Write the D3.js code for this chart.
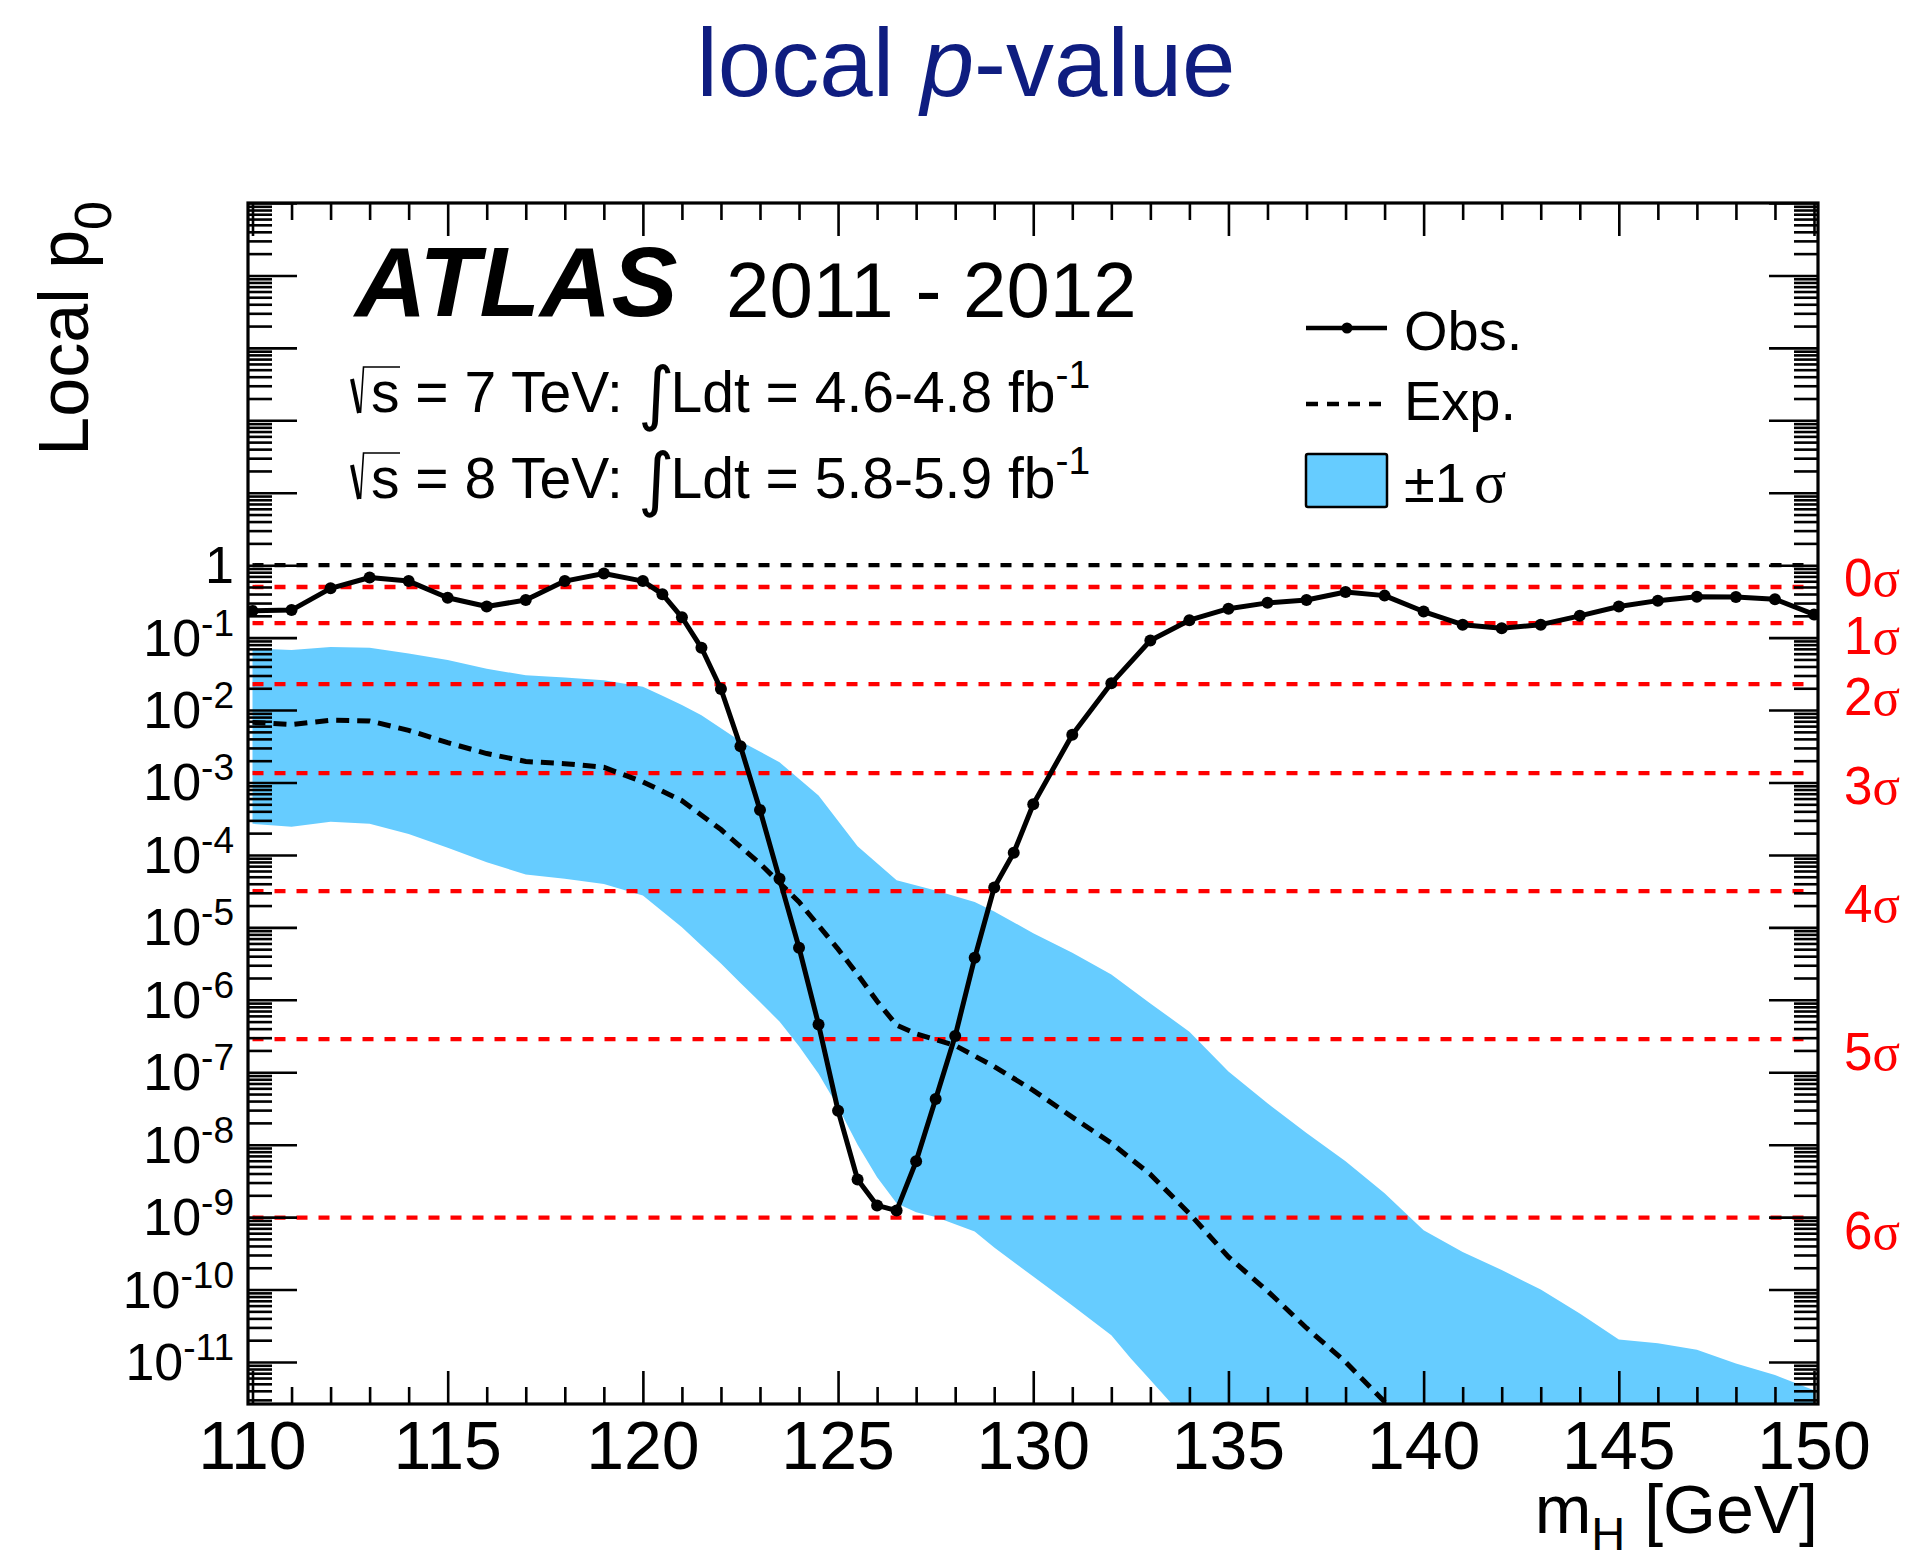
<!DOCTYPE html>
<html>
<head>
<meta charset="utf-8">
<script src="https://cdn.jsdelivr.net/npm/d3@7"></script>
<style>
  body { margin: 0; background: #ffffff; }
  svg { display: block; }
  text { font-family: "Liberation Sans", Arial, Helvetica, sans-serif; }
</style>
</head>
<body>
<svg id="chart" width="1911" height="1563"></svg>
<script>
// ---- Observed local p0 vs Higgs mass ----
const massObs = [110, 111, 112, 113, 114, 115, 116, 117, 118, 119, 120,
  120.5, 121, 121.5, 122, 122.5, 123, 123.5, 124, 124.5, 125, 125.5, 126,
  126.5, 127, 127.5, 128, 128.5, 129, 129.5, 130,
  131, 132, 133, 134, 135, 136, 137, 138, 139, 140,
  141, 142, 143, 144, 145, 146, 147, 148, 149, 150];
const pObs = [0.234, 0.240, 0.479, 0.676, 0.603, 0.355, 0.269, 0.331, 0.603, 0.767, 0.603,
  0.398, 0.191, 0.0724, 0.0195, 3.16e-3, 4.17e-4, 4.68e-5, 5.25e-6, 4.57e-7, 2.95e-8, 3.31e-9, 1.45e-9,
  1.23e-9, 5.89e-9, 4.27e-8, 3.16e-7, 3.80e-6, 3.55e-5, 1.07e-4, 5.01e-4,
  4.57e-3, 0.0234, 0.0912, 0.174, 0.251, 0.302, 0.331, 0.427, 0.380, 0.229,
  0.151, 0.135, 0.151, 0.200, 0.269, 0.324, 0.367, 0.363, 0.339, 0.209];

// ---- Expected local p0 (SM Higgs) ----
const massExp = [110, 111, 112, 113, 114, 115, 116, 117, 118, 119, 120, 121, 122, 123, 124,
  125, 125.5, 126, 126.5, 127, 128, 129, 130, 131, 132, 133, 134, 135, 136, 137, 138, 139, 140];
const pExp = [6.76e-3, 6.31e-3, 7.24e-3, 7.08e-3, 5.25e-3, 3.55e-3, 2.51e-3, 1.95e-3, 1.82e-3, 1.62e-3,
  1.02e-3, 5.62e-4, 2.24e-4, 7.59e-5, 2.24e-5, 5.01e-6, 2.24e-6, 9.55e-7, 4.47e-7, 3.39e-7, 2.34e-7,
  1.20e-7, 5.62e-8, 2.40e-8, 1.05e-8, 3.89e-9, 1.12e-9, 2.82e-10, 9.55e-11, 2.95e-11, 1.00e-11,
  2.82e-12, 7.94e-13];

// ---- ±1σ band on the expectation ----
const massBandUp = [110, 111, 112, 113, 114, 115, 116, 117, 118, 119, 120, 120.5, 121, 121.5,
  122.5, 123.5, 124.5, 125.5, 126.5, 127.5, 128.5, 129, 130, 131, 132, 133, 134, 135, 136, 137,
  138, 139, 140, 141, 142, 143, 144, 145, 146, 147, 148, 149, 150];
const bandUp = [0.0708, 0.0676, 0.0741, 0.0724, 0.0603, 0.0490, 0.0372, 0.0302, 0.0282, 0.0257,
  0.0209, 0.0158, 0.0117, 8.51e-3, 3.72e-3, 1.91e-3, 6.61e-4, 1.32e-4, 4.47e-5, 3.24e-5, 2.24e-5,
  1.66e-5, 8.32e-6, 4.47e-6, 2.24e-6, 8.91e-7, 3.63e-7, 1.02e-7, 3.72e-8, 1.45e-8, 5.89e-9,
  2.14e-9, 6.61e-10, 3.31e-10, 1.86e-10, 1.00e-10, 4.68e-11, 2.04e-11, 1.82e-11, 1.48e-11,
  9.55e-12, 6.61e-12, 4.07e-12];
const massBandDn = [110, 111, 112, 113, 114, 115, 116, 117, 118, 119, 120, 121, 121.5, 122, 122.5,
  123, 123.5, 124, 124.5, 125, 125.5, 126, 126.5, 127, 127.5, 128.5, 129, 130, 131, 132, 132.5,
  133, 133.5, 134];
const bandDn = [2.69e-4, 2.45e-4, 2.88e-4, 2.69e-4, 1.95e-4, 1.26e-4, 7.94e-5, 5.37e-5, 4.68e-5,
  3.98e-5, 2.75e-5, 1.00e-5, 5.62e-6, 3.16e-6, 1.70e-6, 9.33e-7, 5.01e-7, 2.29e-7, 9.55e-8,
  3.31e-8, 1.00e-8, 3.55e-9, 1.55e-9, 1.17e-9, 1.00e-9, 6.31e-10, 3.80e-10, 1.51e-10, 6.03e-11,
  2.34e-11, 1.12e-11, 5.62e-12, 2.82e-12, 1.26e-12];

// ---- significance reference lines ----
const sigmaNames = ["0", "1", "2", "3", "4", "5", "6"];
const sigmaP = [0.5, 0.1587, 0.02275, 1.350e-3, 3.167e-5, 2.867e-7, 9.866e-10];
const sigmaNudge = [-22, 0, 0, 0, 0, 0, 0];

// ---- axis ticks ----
const xMajorTicks = [110, 115, 120, 125, 130, 135, 140, 145, 150];
const yLabelExponents = [0, -1, -2, -3, -4, -5, -6, -7, -8, -9, -10, -11];

const svg = d3.select("#chart");
const F = { left: 248, right: 1818, top: 203, bottom: 1404 };

const x = d3.scaleLinear().domain([110, 150]).range([252.5, 1814]);
const y = d3.scaleLog().domain([Math.pow(10, -11.58), 1e5]).range([F.bottom, F.top]);

svg.append("defs").append("clipPath").attr("id", "plotClip")
  .append("rect").attr("x", F.left).attr("y", F.top)
  .attr("width", F.right - F.left).attr("height", F.bottom - F.top);

// title
const title = svg.append("text").attr("x", 966).attr("y", 96)
  .attr("text-anchor", "middle").style("font-size", "96px").style("fill", "#0f1d80");
title.append("tspan").text("local ");
title.append("tspan").style("font-style", "italic").text("p");
title.append("tspan").text("-value");

const plot = svg.append("g").attr("clip-path", "url(#plotClip)");

// band: upper edge left to right, then down past the frame bottom and back along the lower edge
const lastDn = massBandDn[massBandDn.length - 1];
const bandPts = massBandUp.map((m, i) => [x(m), y(bandUp[i])])
  .concat([[x(150), F.bottom + 20], [x(lastDn), F.bottom + 20]])
  .concat(massBandDn.map((m, i) => [x(m), y(bandDn[i])]).reverse());
plot.append("path").attr("d", d3.line()(bandPts) + "Z")
  .attr("fill", "#66ccff").attr("stroke", "none");

// p0 = 1 reference
plot.append("line").attr("x1", x(110)).attr("x2", x(150))
  .attr("y1", y(1)).attr("y2", y(1))
  .attr("stroke", "#000").attr("stroke-width", 4.2).attr("stroke-dasharray", "11,11");

// sigma lines
plot.selectAll(".sig").data(sigmaP).enter().append("line")
  .attr("x1", x(110)).attr("x2", x(150))
  .attr("y1", d => y(d)).attr("y2", d => y(d))
  .attr("stroke", "#ff0000").attr("stroke-width", 4.3).attr("stroke-dasharray", "11,11");

// expected
plot.append("path")
  .attr("d", d3.line().x((m) => x(m)).y((m, i) => y(pExp[i]))(massExp))
  .attr("fill", "none").attr("stroke", "#000").attr("stroke-width", 5)
  .attr("stroke-dasharray", "13,8");

// observed
plot.append("path")
  .attr("d", d3.line().x((m) => x(m)).y((m, i) => y(pObs[i]))(massObs))
  .attr("fill", "none").attr("stroke", "#000").attr("stroke-width", 5)
  .attr("stroke-linejoin", "round");
plot.selectAll(".obsDot").data(massObs).enter().append("circle")
  .attr("cx", d => x(d)).attr("cy", (d, i) => y(pObs[i])).attr("r", 6).attr("fill", "#000");

// ---- ticks ----
const decades = d3.range(-11, 6).map(e => Math.pow(10, e));
const minors = [];
for (let e = -12; e <= 4; e++) for (let k = 2; k <= 9; k++) {
  const v = k * Math.pow(10, e);
  if (v > y.domain()[0] && v < y.domain()[1]) minors.push(v);
}
const xMinor = d3.range(110, 151).filter(v => v % 5 !== 0);

function styleAxis(g) {
  g.select(".domain").remove();
  g.selectAll(".tick line").attr("stroke", "#000").attr("stroke-width", 2.6);
  g.selectAll(".tick text").remove();
}
svg.append("g").attr("transform", `translate(${F.left},0)`)
  .call(d3.axisRight(y).tickValues(decades).tickSize(49).tickFormat("")).call(styleAxis);
svg.append("g").attr("transform", `translate(${F.left},0)`)
  .call(d3.axisRight(y).tickValues(minors).tickSize(24).tickFormat("")).call(styleAxis);
svg.append("g").attr("transform", `translate(${F.right},0)`)
  .call(d3.axisLeft(y).tickValues(decades).tickSize(49).tickFormat("")).call(styleAxis);
svg.append("g").attr("transform", `translate(${F.right},0)`)
  .call(d3.axisLeft(y).tickValues(minors).tickSize(24).tickFormat("")).call(styleAxis);
svg.append("g").attr("transform", `translate(0,${F.bottom})`)
  .call(d3.axisTop(x).tickValues(xMajorTicks).tickSize(33).tickFormat("")).call(styleAxis);
svg.append("g").attr("transform", `translate(0,${F.bottom})`)
  .call(d3.axisTop(x).tickValues(xMinor).tickSize(17).tickFormat("")).call(styleAxis);
svg.append("g").attr("transform", `translate(0,${F.top})`)
  .call(d3.axisBottom(x).tickValues(xMajorTicks).tickSize(33).tickFormat("")).call(styleAxis);
svg.append("g").attr("transform", `translate(0,${F.top})`)
  .call(d3.axisBottom(x).tickValues(xMinor).tickSize(17).tickFormat("")).call(styleAxis);

// frame
svg.append("rect").attr("x", F.left).attr("y", F.top)
  .attr("width", F.right - F.left).attr("height", F.bottom - F.top)
  .attr("fill", "none").attr("stroke", "#000").attr("stroke-width", 3.2);

// x tick labels
svg.selectAll(".xlab").data(xMajorTicks).enter().append("text")
  .attr("x", d => x(d)).attr("y", 1469).attr("text-anchor", "middle")
  .style("font-size", "68px").text(d => d);

// y tick labels
yLabelExponents.forEach(e => {
  const t = svg.append("text").attr("x", 234).attr("y", y(Math.pow(10, e)) + 18)
    .attr("text-anchor", "end").style("font-size", "52px");
  if (e === 0) t.text("1");
  else {
    t.append("tspan").text("10");
    t.append("tspan").attr("dy", -20).style("font-size", "37px").text("-" + (-e));
  }
});

// sigma labels
sigmaP.forEach((p, i) => {
  const t = svg.append("text").attr("x", 1844).attr("y", y(p) + 31 + sigmaNudge[i])
    .style("font-size", "53px").style("fill", "#ff0000")
    .attr("textLength", 56).attr("lengthAdjust", "spacingAndGlyphs");
  t.append("tspan").text(sigmaNames[i]);
  t.append("tspan").style("font-family", "'Liberation Serif', 'Times New Roman', serif").text("σ");
});

// axis titles
const xt = svg.append("text").attr("x", 1818).attr("y", 1533).attr("text-anchor", "end")
  .style("font-size", "68px");
xt.append("tspan").text("m");
xt.append("tspan").attr("dy", 17).style("font-size", "47px").text("H");
xt.append("tspan").attr("dy", -17).text(" [GeV]");

const yt = svg.append("text").attr("transform", "translate(88,201) rotate(-90)")
  .attr("text-anchor", "end").style("font-size", "70px");
yt.append("tspan").text("Local p");
yt.append("tspan").attr("dy", 23).style("font-size", "52px").text("0");

// ATLAS label
svg.append("text").attr("x", 355).attr("y", 316)
  .style("font-size", "99px").style("font-weight", "bold").style("font-style", "italic")
  .text("ATLAS");
svg.append("text").attr("x", 726).attr("y", 317).style("font-size", "78px").text("2011 - 2012");

// luminosity lines
function lumiLine(base, energy, lumi) {
  svg.append("path")
    .attr("d", `M352,${base - 33} L359,${base + 1}`)
    .attr("stroke", "#000").attr("stroke-width", 4).attr("fill", "none");
  svg.append("path")
    .attr("d", `M360.5,${base + 1} L363.5,${base - 45} L400,${base - 45}`)
    .attr("stroke", "#000").attr("stroke-width", 1.6).attr("fill", "none");
  svg.append("text").attr("x", 371).attr("y", base).style("font-size", "57px")
    .text(`s = ${energy} TeV:`);
  const t = svg.append("text").attr("x", 638).attr("y", base + 5).style("font-size", "57px");
  t.append("tspan").style("font-family", "'DejaVu Sans', sans-serif").style("font-size", "70px").text("∫");
  t.append("tspan").attr("dy", -5).attr("dx", -4).text(`Ldt = ${lumi} fb`);
  t.append("tspan").attr("dy", -24).style("font-size", "39px").text("-1");
}
lumiLine(412, "7", "4.6-4.8");
lumiLine(498, "8", "5.8-5.9");

// legend
const lg = svg.append("g");
lg.append("line").attr("x1", 1306).attr("x2", 1387).attr("y1", 328).attr("y2", 328)
  .attr("stroke", "#000").attr("stroke-width", 4.5);
lg.append("circle").attr("cx", 1347).attr("cy", 328).attr("r", 5.5).attr("fill", "#000");
lg.append("text").attr("x", 1404).attr("y", 350).style("font-size", "56px").text("Obs.");
lg.append("line").attr("x1", 1306).attr("x2", 1387).attr("y1", 404).attr("y2", 404)
  .attr("stroke", "#000").attr("stroke-width", 4.5).attr("stroke-dasharray", "12,9");
lg.append("text").attr("x", 1404).attr("y", 420).style("font-size", "56px").text("Exp.");
lg.append("rect").attr("x", 1306).attr("y", 454).attr("width", 81).attr("height", 53)
  .attr("rx", 2).attr("fill", "#66ccff").attr("stroke", "#000").attr("stroke-width", 2.5);
const lt = lg.append("text").attr("x", 1404).attr("y", 502).style("font-size", "56px");
lt.append("tspan").text("±1");
lt.append("tspan").attr("dx", 8).style("font-family", "'Liberation Serif', 'Times New Roman', serif")
  .style("font-size", "60px").text("σ");
</script>
</body>
</html>
